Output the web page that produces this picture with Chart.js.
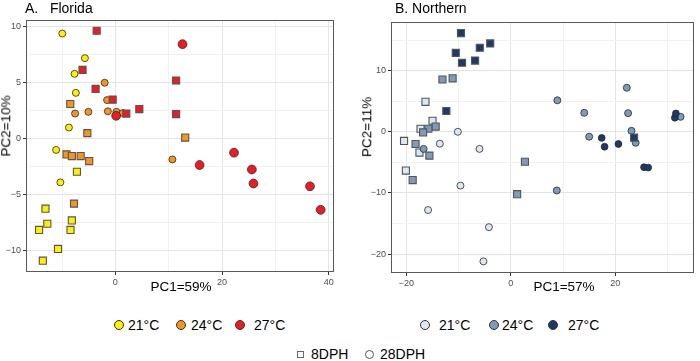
<!DOCTYPE html>
<html>
<head>
<meta charset="utf-8">
<script src="https://cdn.jsdelivr.net/npm/chart.js@4.4.0/dist/chart.umd.min.js"></script>
<style>
  body { margin: 0; background: #fff; font-family: "Liberation Sans", Arial, sans-serif; }
  #wrap { position: relative; width: 700px; height: 361px; overflow: hidden; }
  canvas { position: absolute; top: 0; }
  .t { position: absolute; white-space: nowrap; color: #000; line-height: 1; }
  .c { transform: translate(-50%, -50%); }
  .rot { transform: translate(-50%, -50%) rotate(-90deg); }
  .dot { position: absolute; border-radius: 50%; border: 0.8px solid #333; box-sizing: border-box; }
  .sq { position: absolute; border: 1px solid #666; box-sizing: border-box; }
</style>
</head>
<body>
<div id="wrap">
  <canvas id="fl" width="350" height="300" style="left:0"></canvas>
  <canvas id="no" width="350" height="300" style="left:350px"></canvas>

  <div class="t" style="left:25px;top:1px;font-size:14px">A.&nbsp;&nbsp;&nbsp;Florida</div>
  <div class="t" style="left:395px;top:1px;font-size:14px">B. Northern</div>

  <div class="t rot" style="left:6px;top:126px;font-size:13.5px">PC2=10%</div>
  <div class="t rot" style="left:367px;top:127px;font-size:13.5px">PC2=11%</div>
  <div class="t c" style="left:181px;top:287px;font-size:13.5px">PC1=59%</div>
  <div class="t c" style="left:564px;top:287px;font-size:13.5px">PC1=57%</div>

  <div id="legend"></div>
</div>
<script>
// ---- Florida (x = PC1, y = PC2) ----
const fl21_8  = [[-7.2,-3.0],[-13.1,-6.3],[-12.75,-7.65],[-14.3,-8.2],[-8.15,-7.35],[-8.4,-8.2],[-10.75,-9.9],[-13.6,-10.95]];
const fl21_28 = [[-9.95,9.35],[-5.7,7.15],[-7.65,5.75],[-7.4,4.05],[-8.7,0.95],[-11.1,-1.05],[-10.3,-3.95]];
const fl24_8  = [[-8.45,3.05],[-5.25,0.45],[-9.15,-1.45],[-8.15,-1.6],[-6.5,-1.6],[-4.9,-2.05],[-7.75,-5.85],[13.1,0.05]];
const fl24_28 = [[-2.0,4.95],[-1.55,3.4],[-1.4,2.4],[-7.55,2.2],[-5.05,2.35],[0.2,2.35],[1.4,2.25],[10.7,-1.9]];
const fl27_8  = [[-3.5,9.6],[-6.15,6.1],[-3.7,4.4],[-0.5,3.45],[2.05,2.2],[4.5,2.6],[11.4,5.15],[11.4,2.15]];
const fl27_28 = [[12.6,8.4],[0.15,2.0],[15.8,-2.4],[22.25,-1.3],[25.6,-2.8],[25.9,-4.05],[36.5,-4.3],[38.5,-6.4]];

// ---- Northern ----
const no21_8  = [[-16.35,4.9],[-15.0,1.8],[-17.3,0.5],[-20.45,-1.5],[-17.5,-3.4],[-20.1,-6.35]];
const no21_28 = [[-10.15,0.0],[-13.6,-1.95],[-6.0,-2.8],[-9.65,-8.8],[-15.85,-12.8],[-4.2,-15.6],[-5.25,-21.2]];
const no24_8  = [[-13.1,8.55],[-11.15,8.75],[-14.4,0.85],[-15.8,0.5],[-16.8,-0.1],[-18.25,-2.0],[-15.6,-3.9],[-18.8,-7.9],[2.7,-4.9],[1.2,-10.2]];
const no24_28 = [[8.9,5.15],[14.05,3.1],[15.0,-0.8],[22.2,7.2],[22.45,3.05],[23.1,0.15],[23.9,-1.8],[32.5,2.45],[8.8,-9.6],[-16.7,-2.8]];
const no27_8  = [[-9.55,16.15],[-10.55,12.9],[-9.35,11.3],[-5.95,13.75],[-3.95,14.45],[-6.85,11.65],[-12.35,3.4],[23.6,-0.95]];
const no27_28 = [[17.4,-1.0],[17.95,-2.45],[20.6,-2.0],[25.5,-5.8],[26.3,-5.85],[31.4,2.3],[31.6,3.0]];

// axis ticks
const flXMajor = [0, 20, 40],      flXMinor = [-10, 10, 30];
const flYMajor = [-10, -5, 0, 5, 10], flYMinor = [-7.5, -2.5, 2.5, 7.5];
const noXMajor = [-20, 0, 20],     noXMinor = [-10, 10, 30];
const noYMajor = [-20, -10, 0, 10], noYMinor = [-15, -5, 5, 15];

const tempLabels = ['21°C', '24°C', '27°C'];
const flColors = ['#FFEF00', '#F7941D', '#EC1C24'];
const noColors = ['#DCE8F4', '#7D9BBA', '#1B3A6A'];
const stageLabels = ['8DPH', '28DPH'];

const toXY = arr => arr.map(p => ({ x: p[0], y: p[1] }));

const ds = (pts, color, shape, r) => ({
  data: toXY(pts),
  pointStyle: shape,
  pointRadius: r,
  backgroundColor: color,
  borderColor: shape == 'rect' ? '#555' : '#2a2a2a',
  borderWidth: shape == 'rect' ? 1.1 : 0.8,
  showLine: false
});

const panelBox = {
  id: 'panelBox',
  afterDraw(chart) {
    const { ctx, chartArea: a } = chart;
    ctx.save();
    ctx.strokeStyle = '#595959';
    ctx.lineWidth = 1;
    ctx.strokeRect(Math.round(a.left) + 0.5, Math.round(a.top) + 0.5,
      Math.round(a.right - a.left) - 1, Math.round(a.bottom - a.top) - 1);
    ctx.restore();
  }
};

const fmt = v => (v < 0 ? '\u2212' + Math.abs(v) : '' + v);

const axis = (range, major, minor, fit) => ({
  type: 'linear',
  min: range[0],
  max: range[1],
  afterBuildTicks: s => { s.ticks = major.concat(minor).sort((a, b) => a - b).map(v => ({ value: v })); },
  afterFit: fit,
  border: { display: false },
  grid: {
    color: c => major.includes(c.tick.value) ? '#E4E4E4' : '#F1F1F1',
    lineWidth: 1,
    drawTicks: true,
    tickLength: 3,
    tickColor: c => major.includes(c.tick.value) ? '#333' : 'rgba(0,0,0,0)'
  },
  ticks: {
    autoSkip: false,
    maxRotation: 0,
    padding: 2,
    color: '#4D4D4D',
    font: { family: 'Liberation Sans', size: 9 },
    callback: v => major.includes(v) ? fmt(v) : ''
  }
});

const makePanel = (id, sets, xr, yr, xMaj, xMin, yMaj, yMin, box) => {
  new Chart(document.getElementById(id), {
    type: 'scatter',
    data: { datasets: sets },
    options: {
      responsive: false,
      animation: false,
      layout: { padding: { top: box.top, right: box.right, left: 0, bottom: 0 } },
      plugins: { legend: { display: false }, tooltip: { enabled: false } },
      scales: {
        x: axis(xr, xMaj, xMin, s => { s.height = box.xh; }),
        y: axis(yr, yMaj, yMin, s => { s.width = box.yw; })
      }
    },
    plugins: [panelBox]
  });
};

// first dataset is drawn on top
makePanel('fl', [
  ds(fl27_28, flColors[2], 'circle', 4.4),
  ds(fl27_8, flColors[2], 'rect', 5),
  ds(fl24_28, flColors[1], 'circle', 3.5),
  ds(fl24_8, flColors[1], 'rect', 5),
  ds(fl21_28, flColors[0], 'circle', 3.5),
  ds(fl21_8, flColors[0], 'rect', 5)
], [-16.75, 41.0], [-11.96, 10.56], flXMajor, flXMinor, flYMajor, flYMinor,
  { top: 20, right: 16, xh: 28, yw: 26 });

makePanel('no', [
  ds(no27_28, noColors[2], 'circle', 3.4),
  ds(no27_8, noColors[2], 'rect', 5),
  ds(no24_28, noColors[1], 'circle', 3.5),
  ds(no24_8, noColors[1], 'rect', 5),
  ds(no21_28, noColors[0], 'circle', 3.5),
  ds(no21_8, noColors[0], 'rect', 5)
], [-22.95, 35.05], [-23.1, 17.96], noXMajor, noXMinor, noYMajor, noYMinor,
  { top: 22, right: 1, xh: 27, yw: 41 });

// legends
const legend = document.getElementById('legend');
const addDot = (cx, cy, r, color) => {
  const d = document.createElement('div');
  d.className = 'dot';
  d.style.cssText = `left:${cx - r}px;top:${cy - r}px;width:${2 * r}px;height:${2 * r}px;background:${color}`;
  legend.appendChild(d);
};
const addText = (x, cy, txt, size) => {
  const t = document.createElement('div');
  t.className = 't';
  t.style.cssText = `left:${x}px;top:${cy - size / 2}px;font-size:${size}px`;
  t.textContent = txt;
  legend.appendChild(t);
};

const flDotX = [119, 181, 240], flTxtX = [128, 191, 254];
const noDotX = [425, 494, 553], noTxtX = [439, 502, 568];
tempLabels.forEach((lab, i) => {
  addDot(flDotX[i], 325, 5, flColors[i]);
  addText(flTxtX[i], 325, lab, 14);
  addDot(noDotX[i], 325, 5, noColors[i]);
  addText(noTxtX[i], 325, lab, 14);
});

const sq = document.createElement('div');
sq.className = 'sq';
sq.style.cssText = 'left:297px;top:351px;width:7px;height:7px;background:#fff';
legend.appendChild(sq);
addText(311, 354, stageLabels[0], 14);
const oc = document.createElement('div');
oc.className = 'dot';
oc.style.cssText = 'left:364.5px;top:349.5px;width:9px;height:9px;background:#fff;border-color:#555';
legend.appendChild(oc);
addText(380, 354, stageLabels[1], 14);
</script>
</body>
</html>
